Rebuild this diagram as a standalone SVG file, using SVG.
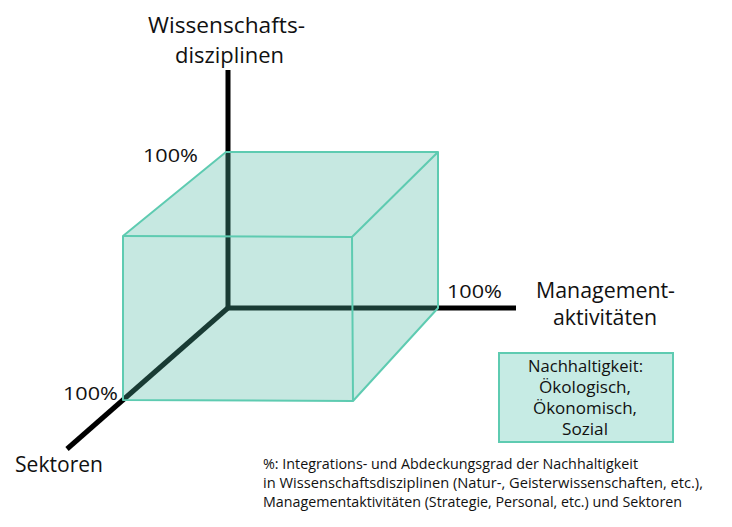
<svg xmlns="http://www.w3.org/2000/svg" width="732" height="527" viewBox="0 0 732 527">
<style>
  text { font-family: "Open Sans", "Liberation Sans", sans-serif; fill: #111; }
  .axis { stroke: #000; stroke-width: 5; fill: none; }
  .edge { stroke: #5ecbb1; stroke-width: 2; fill: none; stroke-linejoin: round; }
  .face { fill: #4fb6a2; fill-opacity: 0.32; stroke: none; }
  .lbl { font-size: 21px; }
  .pct { font-size: 19px; }
  .leg { font-size: 16px; }
  .note { font-size: 14px; }
</style>
<rect width="732" height="527" fill="#fff"/>
<g id="connectors">
  <line class="axis" x1="228" y1="70" x2="228" y2="310"/>
  <line class="axis" x1="226" y1="308" x2="516" y2="308"/>
  <line class="axis" x1="229" y1="307" x2="67" y2="449"/>
</g>
<g id="cube">
  <polygon class="face" points="123,236 226,152 438,152 438,308 353,401 123,400"/>
  <polygon class="edge" points="123,236 226,152 438,152 438,308 353,401 123,400"/>
  <polyline class="edge" points="123,236 352,237 353,401"/>
  <line class="edge" x1="352" y1="237" x2="438" y2="152"/>
</g>
<g id="axis-wissenschaft">
  <text class="lbl" x="148" y="33" textLength="157" lengthAdjust="spacingAndGlyphs">Wissenschafts-</text>
  <text class="lbl" x="175" y="63" textLength="109" lengthAdjust="spacingAndGlyphs">disziplinen</text>
  <text class="pct" x="143" y="162" textLength="55" lengthAdjust="spacingAndGlyphs">100%</text>
</g>
<g id="axis-management">
  <text class="lbl" x="536" y="298" textLength="139" lengthAdjust="spacingAndGlyphs">Management-</text>
  <text class="lbl" x="553" y="325" textLength="104" lengthAdjust="spacingAndGlyphs">aktivitäten</text>
  <text class="pct" x="447" y="298" textLength="55" lengthAdjust="spacingAndGlyphs">100%</text>
</g>
<g id="axis-sektoren">
  <text class="lbl" x="15" y="472" textLength="88" lengthAdjust="spacingAndGlyphs">Sektoren</text>
  <text class="pct" x="63" y="400" textLength="55" lengthAdjust="spacingAndGlyphs">100%</text>
</g>
<g id="legend">
  <rect x="499" y="353" width="174" height="89" fill="#c6ebe4" stroke="#5ecbb1" stroke-width="2"/>
  <text class="leg" x="528" y="372" textLength="115" lengthAdjust="spacingAndGlyphs">Nachhaltigkeit:</text>
  <text class="leg" x="539" y="393" textLength="92" lengthAdjust="spacingAndGlyphs">Ökologisch,</text>
  <text class="leg" x="533" y="414" textLength="104" lengthAdjust="spacingAndGlyphs">Ökonomisch,</text>
  <text class="leg" x="562" y="435" textLength="46" lengthAdjust="spacingAndGlyphs">Sozial</text>
</g>
<g id="note">
  <text class="note" x="263" y="469" textLength="375" lengthAdjust="spacingAndGlyphs">%: Integrations- und Abdeckungsgrad der Nachhaltigkeit</text>
  <text class="note" x="263" y="488" textLength="440" lengthAdjust="spacingAndGlyphs">in Wissenschaftsdisziplinen (Natur-, Geisterwissenschaften, etc.),</text>
  <text class="note" x="263" y="507" textLength="419" lengthAdjust="spacingAndGlyphs">Managementaktivitäten (Strategie, Personal, etc.) und Sektoren</text>
</g>
</svg>
